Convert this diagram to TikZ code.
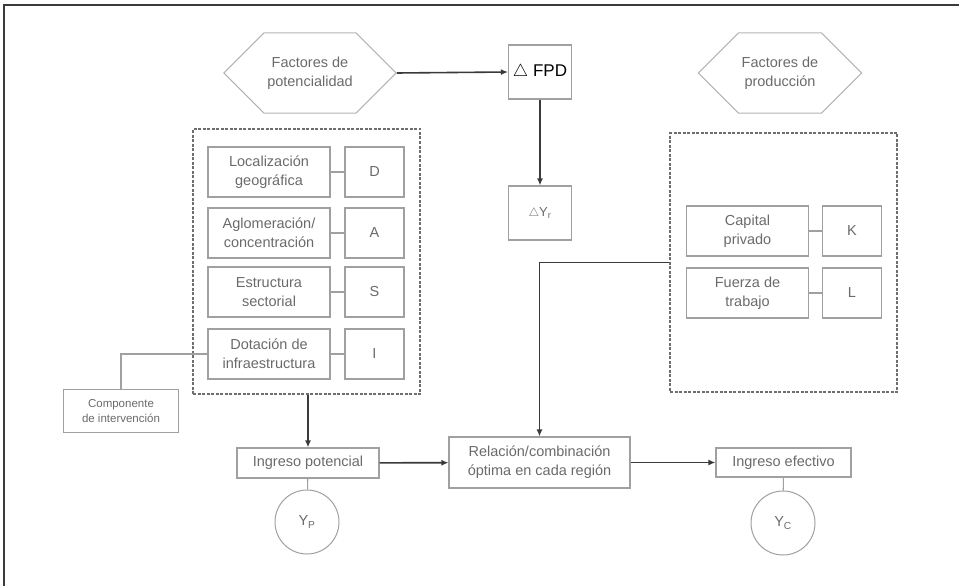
\documentclass[tikz,border=0pt]{standalone}
\usepackage{fontspec}
\setmainfont{Liberation Sans}
\usetikzlibrary{shapes.symbols,arrows.meta,positioning}

\definecolor{boxgray}{HTML}{A0A0A0}
\definecolor{txtgray}{HTML}{6A6A6A}
\definecolor{arrowgray}{HTML}{3A3A3A}
\definecolor{dashgray}{HTML}{6E6E6E}

\newcommand{\boxfont}{\fontsize{14.5}{19}\selectfont}
\newcommand{\smallboxfont}{\fontsize{11.5}{15}\selectfont}

\tikzset{
	txtbox/.style={draw=boxgray, line width=1.1pt, text=txtgray, font=\boxfont, align=center, inner sep=2pt},
	letterbox/.style={txtbox, minimum width=59pt, minimum height=50pt},
	rowbox/.style={txtbox, minimum width=122pt, minimum height=50pt},
	hexa/.style={signal, signal to=west and east, signal pointer angle=90, draw=boxgray!80, line width=1pt, text=txtgray, font=\boxfont, align=center, minimum width=157pt, minimum height=80pt},
	groupbox/.style={draw=dashgray, line width=1.5pt, dash pattern=on 3pt off 1.5pt},
	flow/.style={draw=arrowgray, line width=1.6pt, -{Latex[length=7pt,width=6pt]}},
	link/.style={draw=boxgray, line width=1.1pt},
	ybubble/.style={circle, draw=boxgray, line width=1pt, text=txtgray, font=\boxfont, minimum size=64pt, inner sep=0pt}
}

\begin{document}
\begin{tikzpicture}[x=1pt, y=-1pt]
	% Fix page size and draw the frame
	\useasboundingbox (0,0) rectangle (959,586);
	\draw[arrowgray, line width=1.5pt] (959,5) -- (4,5) -- (4,586);

	% Hexagons on top
	\node[hexa] (fpot) at (310,73) {Factores de\\potencialidad};
	\node[hexa] (fprod) at (780,73) {Factores de\\producci\'on};

	% Delta boxes
	\node[txtbox, minimum width=63pt, minimum height=54pt, text=black, font=\fontsize{17}{20}\selectfont] (fpd) at (540,72) {$\triangle$ FPD};
	\node[txtbox, minimum width=63pt, minimum height=54pt] (dyr) at (540,213) {\fontsize{13}{15}\selectfont$\triangle$Y\textsubscript{r}};

	% Dashed groups
	\node[groupbox, minimum width=227pt, minimum height=265pt] (potgrp) at (306.5,261.5) {};
	\node[groupbox, minimum width=227pt, minimum height=259pt] (prodgrp) at (783.5,262.5) {};

	% Potentiality factors, one row each
	\foreach \nm/\txt/\ltr/\y in {loc/{Localizaci\'on\\geogr\'afica}/D/172,
		agl/{Aglomeraci\'on/\\concentraci\'on}/A/233,
		est/{Estructura\\sectorial}/S/292,
		dot/{Dotaci\'on de\\infraestructura}/I/354}
	{
		\node[rowbox] (\nm) at (269,\y) {\txt};
		\node[letterbox] (\nm-l) at (374.5,\y) {\ltr};
		\draw[link] (\nm) -- (\nm-l);
	}

	% Production factors
	\foreach \nm/\txt/\ltr/\y in {cap/{Capital\\privado}/K/231,
		fue/{Fuerza de\\trabajo}/L/293}
	{
		\node[rowbox] (\nm) at (747.5,\y) {\txt};
		\node[letterbox] (\nm-l) at (852,\y) {\ltr};
		\draw[link] (\nm) -- (\nm-l);
	}

	% Intervention component
	\node[txtbox, font=\smallboxfont, minimum width=115pt, minimum height=43pt] (comp) at (121,411) {Componente\\de intervenci\'on};
	\draw[link] (comp.north) |- (dot.west);

	% Bottom row of incomes
	\node[txtbox, minimum width=142pt, minimum height=30pt] (ingpot) at (308,463) {Ingreso potencial};
	\node[txtbox, minimum width=181pt, minimum height=51pt] (rel) at (539.5,462.5) {Relaci\'on/combinaci\'on\\\'optima en cada regi\'on};
	\node[txtbox, minimum width=135pt, minimum height=29pt] (ingef) at (783.5,462.5) {Ingreso efectivo};
	\node[ybubble] (yp) at (307,522) {Y\textsubscript{P}};
	\node[ybubble] (yc) at (783,523) {Y\textsubscript{C}};
	\draw[link] (ingpot) -- (yp);
	\draw[link] (ingef) -- (yc);

	% Arrows
	\draw[flow] (fpot.east) -- (fpd.west);
	\draw[flow] (fpd) -- (dyr);
	\draw[flow] (ingpot.north |- potgrp.south) -- (ingpot.north);
	\draw[flow] (prodgrp.west) -| (rel.north);
	\draw[flow] (ingpot) -- (rel);
	\draw[flow] (rel) -- (ingef);
\end{tikzpicture}
\end{document}
